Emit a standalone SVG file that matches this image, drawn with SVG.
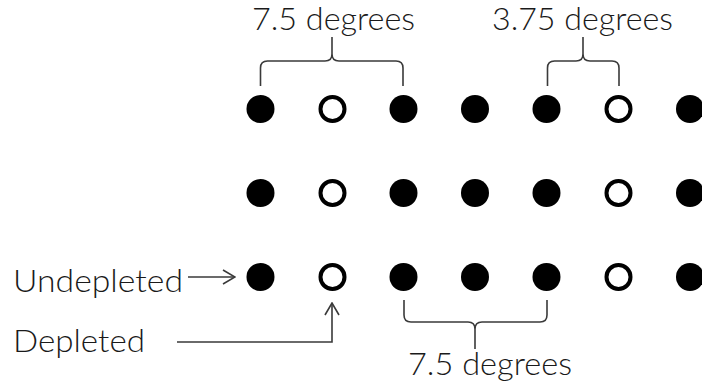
<svg xmlns="http://www.w3.org/2000/svg" width="702" height="387" viewBox="0 0 702 387">
<style>
.f{fill:#000}
.o{fill:#fff;stroke:#000;stroke-width:4}
.t{font-family:Lato,"Liberation Sans",sans-serif;font-size:31px;font-weight:300;fill:#1a1a1a}
.ln{fill:none;stroke:#3a3a3a;stroke-width:1.6}
</style>
<defs>
<marker id="chev" viewBox="0 0 14 16" refX="13" refY="8" markerWidth="14" markerHeight="16" markerUnits="userSpaceOnUse" orient="auto">
<path d="M1,1 L13,8 L1,15" fill="none" stroke="#3a3a3a" stroke-width="1.6"/>
</marker>
</defs>
<rect width="702" height="387" fill="#fff"/>
<g id="row1">
<g id="n1-1"><circle class="f" cx="260.5" cy="109" r="14"/></g>
<g id="n1-2"><circle class="o" cx="332.5" cy="109" r="12"/></g>
<g id="n1-3"><circle class="f" cx="403.5" cy="109" r="14"/></g>
<g id="n1-4"><circle class="f" cx="475" cy="109" r="14"/></g>
<g id="n1-5"><circle class="f" cx="546.5" cy="109" r="14"/></g>
<g id="n1-6"><circle class="o" cx="618.5" cy="109" r="12"/></g>
<g id="n1-7"><circle class="f" cx="690" cy="109" r="14"/></g>
</g>
<g id="row2">
<g id="n2-1"><circle class="f" cx="260.5" cy="193" r="14"/></g>
<g id="n2-2"><circle class="o" cx="332.5" cy="193" r="12"/></g>
<g id="n2-3"><circle class="f" cx="403.5" cy="193" r="14"/></g>
<g id="n2-4"><circle class="f" cx="475" cy="193" r="14"/></g>
<g id="n2-5"><circle class="f" cx="546.5" cy="193" r="14"/></g>
<g id="n2-6"><circle class="o" cx="618.5" cy="193" r="12"/></g>
<g id="n2-7"><circle class="f" cx="690" cy="193" r="14"/></g>
</g>
<g id="row3">
<g id="n3-1"><circle class="f" cx="260.5" cy="277" r="14"/></g>
<g id="n3-2"><circle class="o" cx="332.5" cy="277" r="12"/></g>
<g id="n3-3"><circle class="f" cx="403.5" cy="277" r="14"/></g>
<g id="n3-4"><circle class="f" cx="475" cy="277" r="14"/></g>
<g id="n3-5"><circle class="f" cx="546.5" cy="277" r="14"/></g>
<g id="n3-6"><circle class="o" cx="618.5" cy="277" r="12"/></g>
<g id="n3-7"><circle class="f" cx="690" cy="277" r="14"/></g>
</g>
<g id="connectors">
<path class="ln" d="M260.5,86 V68 Q260.5,61 267.5,61 H325 Q332,61 332,54 V37 M332,54 Q332,61 339,61 H396 Q403,61 403,68 V86"/>
<path class="ln" d="M547.5,86 V68 Q547.5,61 554.5,61 H576 Q583,61 583,54 V37 M583,54 Q583,61 590,61 H612 Q619,61 619,68 V86"/>
<path class="ln" d="M404,300 V315 Q404,322 411,322 H468 Q475,322 475,329 V349 M475,329 Q475,322 482,322 H540 Q547,322 547,315 V300"/>
<path class="ln" d="M188,277 H235" marker-end="url(#chev)"/>
<path class="ln" d="M177,342 H332 V303" marker-end="url(#chev)"/>
</g>
<g id="labels">
<text class="t" x="252" y="30" textLength="163" lengthAdjust="spacingAndGlyphs">7.5 degrees</text>
<text class="t" x="492" y="30" textLength="181" lengthAdjust="spacingAndGlyphs">3.75 degrees</text>
<text class="t" x="13" y="292" textLength="170" lengthAdjust="spacingAndGlyphs">Undepleted</text>
<text class="t" x="13" y="352" textLength="132" lengthAdjust="spacingAndGlyphs">Depleted</text>
<text class="t" x="408" y="375" textLength="164" lengthAdjust="spacingAndGlyphs">7.5 degrees</text>
</g>
</svg>
